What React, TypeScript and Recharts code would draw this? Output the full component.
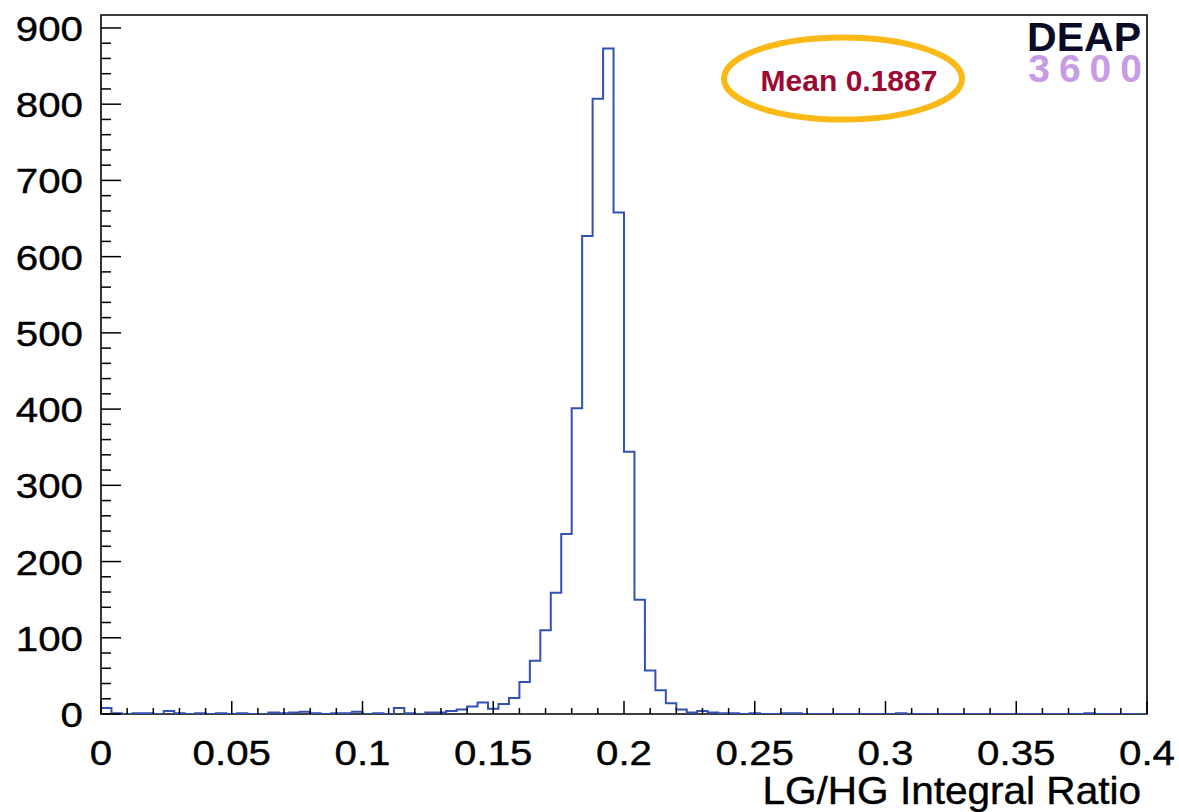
import { LineChart, Line, XAxis, YAxis, ReferenceArea } from 'recharts';

// LG/HG integral ratio histogram, 100 bins from 0 to 0.4
const xMin = 0;
const xMax = 0.4;
const yMax = 917;

const counts = [
  8, 1, 0, 1, 1, 0, 4, 1, 0, 1,
  0, 1, 0, 1, 0, 0, 2, 1, 2, 3,
  1, 0, 1, 1, 3, 0, 1, 0, 8, 1,
  0, 2, 2, 4, 6, 10, 15, 7, 13, 21,
  42, 70, 110, 159, 236, 401, 627, 807, 873, 658,
  344, 150, 57, 31, 14, 6, 2, 4, 2, 1,
  1, 0, 1, 0, 0, 1, 1, 0, 0, 0,
  0, 0, 0, 0, 0, 0, 1, 0, 0, 0,
  0, 0, 0, 0, 0, 0, 0, 0, 0, 0,
  0, 0, 0, 0, 1, 0, 0, 0, 0, 0,
];

const xMajorTicks = [0, 0.05, 0.1, 0.15, 0.2, 0.25, 0.3, 0.35, 0.4];
const xMajorLabels = ['0', '0.05', '0.1', '0.15', '0.2', '0.25', '0.3', '0.35', '0.4'];
const yMajorTicks = [0, 100, 200, 300, 400, 500, 600, 700, 800, 900];

const xTitle = 'LG/HG Integral Ratio';
const meanLabel = 'Mean 0.1887';

const binWidth = (xMax - xMin) / counts.length;
const data = counts.map((c, i) => ({ x: xMin + i * binWidth, y: c }));
data.push({ x: xMax, y: counts[counts.length - 1] });

const xTicks = Array.from({ length: 41 }, (_, i) => +(i * 0.01).toFixed(2));
const yTicks = Array.from({ length: 46 }, (_, i) => i * 20);

const font = '"Liberation Sans", Arial, Helvetica, sans-serif';

function XTick(props: any) {
  const { x, y, payload } = props;
  const idx = xMajorTicks.findIndex(t => Math.abs(t - payload.value) < 1e-9);
  const major = idx >= 0;
  return (
    <g>
      <line x1={x} x2={x} y1={y} y2={y - (major ? 13 : 6)} stroke="#000" strokeWidth={1.5} />
      {major && (
        <text
          transform={`translate(${x} ${y + 51}) scale(1.12 1)`}
          textAnchor="middle"
          fontSize={36}
          fontFamily={font}
          fill="#000"
          stroke="#000"
          strokeWidth={0.4}
        >
          {xMajorLabels[idx]}
        </text>
      )}
    </g>
  );
}

function YTick(props: any) {
  const { x, y, payload } = props;
  const major = yMajorTicks.includes(payload.value);
  return (
    <g>
      <line x1={x} x2={x + (major ? 20 : 10)} y1={y} y2={y} stroke="#000" strokeWidth={1.5} />
      {major && (
        <text
          transform={`translate(${x - 18} ${y}) scale(1.12 1)`}
          dy="0.36em"
          textAnchor="end"
          fontSize={36}
          fontFamily={font}
          fill="#000"
          stroke="#000"
          strokeWidth={0.4}
        >
          {payload.value}
        </text>
      )}
    </g>
  );
}

export default function App() {
  return (
    <div style={{ position: 'absolute', left: 0, top: 0, width: 1179, height: 812, background: '#fff' }}>
      <LineChart width={1179} height={812} data={data} margin={{ top: 15, right: 32, bottom: 38, left: 0 }}>
        <XAxis
          dataKey="x"
          type="number"
          domain={[xMin, xMax]}
          ticks={xTicks}
          interval={0}
          tickSize={0}
          tickMargin={0}
          axisLine={false}
          tickLine={false}
          height={60}
          tick={(p: any) => <XTick {...p} />}
        />
        <YAxis
          type="number"
          domain={[0, yMax]}
          ticks={yTicks}
          interval={0}
          tickSize={0}
          tickMargin={0}
          axisLine={false}
          tickLine={false}
          width={101}
          allowDataOverflow
          tick={(p: any) => <YTick {...p} />}
        />
        <Line
          type="stepAfter"
          dataKey="y"
          stroke="#3152b4"
          strokeWidth={2}
          dot={false}
          activeDot={false}
          isAnimationActive={false}
        />
        <ReferenceArea x1={xMin} x2={xMax} y1={0} y2={yMax} fill="none" stroke="#000" strokeWidth={1.6} ifOverflow="visible" />
      </LineChart>
      <svg width={1179} height={812} style={{ position: 'absolute', left: 0, top: 0, pointerEvents: 'none' }}>
        <text
          transform="translate(1141 804) scale(1.04 1)"
          textAnchor="end"
          fontSize={39}
          fontFamily={font}
          fill="#000"
          stroke="#000"
          strokeWidth={0.4}
        >
          {xTitle}
        </text>
        <ellipse cx={843} cy={78.5} rx={119} ry={41} fill="none" stroke="#fbb917" strokeWidth={6} />
        <text x={849} y={80} dy="0.36em" textAnchor="middle" fontSize={30} fontWeight="bold" fontFamily={font} fill="#9b0a32">
          {meanLabel}
        </text>
        <text x={1141} y={51} textAnchor="end" fontSize={41} fontWeight="bold" fontFamily={font} fill="#0b0b28">
          DEAP
        </text>
        <text x={1151} y={82} textAnchor="end" fontSize={39} fontWeight="bold" fontFamily={font} fill="#c79be6" letterSpacing={9}>
          3600
        </text>
      </svg>
    </div>
  );
}
